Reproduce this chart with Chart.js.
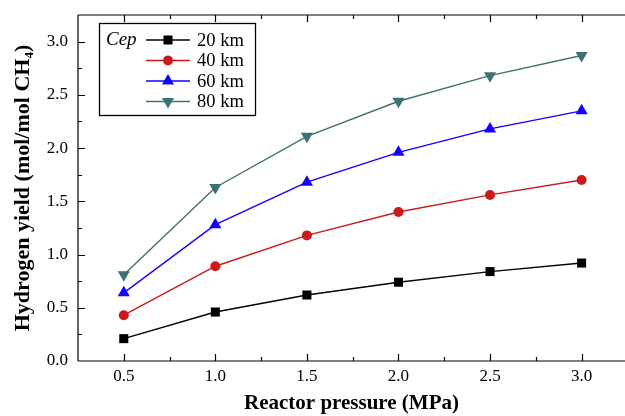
<!DOCTYPE html>
<html>
<head>
<meta charset="utf-8">
<script src="https://cdn.jsdelivr.net/npm/chart.js@4"></script>
<style>
  body { margin: 0; background: #fff; }
</style>
</head>
<body>
<canvas id="chart" width="625" height="416"></canvas>
<script>
const pressures = [0.5, 1.0, 1.5, 2.0, 2.5, 3.0];
const seriesNames = ['20 km', '40 km', '60 km', '80 km'];
const yield20 = [0.21, 0.46, 0.62, 0.74, 0.84, 0.92];
const yield40 = [0.43, 0.89, 1.18, 1.40, 1.56, 1.70];
const yield60 = [0.64, 1.28, 1.68, 1.96, 2.18, 2.35];
const yield80 = [0.81, 1.63, 2.11, 2.44, 2.68, 2.87];
const yTicks = [0.0, 0.5, 1.0, 1.5, 2.0, 2.5, 3.0];
const legendTitle = 'Cep';

const serif = '"Liberation Serif", "DejaVu Serif", serif';

function toPoints(ys) {
  return pressures.map((p, i) => ({ x: p, y: ys[i] }));
}

function makeSet(label, ys, color, style, radius, rotation) {
  return {
    label: label,
    data: toPoints(ys),
    borderColor: color,
    backgroundColor: color,
    borderWidth: 1.4,
    pointStyle: style,
    pointRadius: radius,
    pointRotation: rotation,
    pointBorderWidth: 0,
    tension: 0,
    clip: false
  };
}

// frame with inward ticks (top, left, bottom) like the original figure
const framePlugin = {
  id: 'frame',
  afterDraw(chart) {
    const ctx = chart.ctx;
    const a = chart.chartArea;
    const xs = chart.scales.x, ys = chart.scales.y;
    ctx.save();
    ctx.strokeStyle = '#000';
    ctx.lineWidth = 1.2;
    ctx.beginPath();
    ctx.moveTo(a.left, a.top); ctx.lineTo(chart.width, a.top);
    ctx.moveTo(a.left, a.top); ctx.lineTo(a.left, a.bottom);
    ctx.moveTo(a.left, a.bottom); ctx.lineTo(chart.width, a.bottom);
    for (let v = 0.5; v <= 3.0001; v += 0.25) {
      const px = Math.round(xs.getPixelForValue(v)) + 0.5;
      const len = Math.abs(v * 2 - Math.round(v * 2)) < 1e-6 ? 7 : 4;
      ctx.moveTo(px, a.bottom); ctx.lineTo(px, a.bottom - len);
      ctx.moveTo(px, a.top); ctx.lineTo(px, a.top + len);
    }
    for (let v = 0.25; v <= 3.0001; v += 0.25) {
      const py = Math.round(ys.getPixelForValue(v)) + 0.5;
      const len = Math.abs(v * 2 - Math.round(v * 2)) < 1e-6 ? 7 : 4;
      ctx.moveTo(a.left, py); ctx.lineTo(a.left + len, py);
    }
    ctx.stroke();
    ctx.restore();
  }
};

// boxed legend with the italic "Cep" title
const legendPlugin = {
  id: 'boxLegend',
  afterDraw(chart) {
    const ctx = chart.ctx;
    ctx.save();
    ctx.fillStyle = '#fff';
    ctx.fillRect(99, 23, 157, 93);
    ctx.strokeStyle = '#000';
    ctx.lineWidth = 1.3;
    ctx.strokeRect(99.5, 23.5, 156, 92);
    ctx.fillStyle = '#000';
    ctx.textBaseline = 'middle';
    ctx.font = 'italic 19px ' + serif;
    ctx.fillText(legendTitle, 106, 40);
    chart.data.datasets.forEach((ds, i) => {
      const y = 40 + i * 20.5;
      ctx.strokeStyle = ds.borderColor;
      ctx.lineWidth = 1.4;
      ctx.beginPath();
      ctx.moveTo(146, y); ctx.lineTo(190, y);
      ctx.stroke();
      ctx.fillStyle = ds.backgroundColor;
      Chart.helpers.drawPoint(ctx, {
        pointStyle: ds.pointStyle, radius: ds.pointRadius,
        rotation: ds.pointRotation, borderWidth: 0
      }, 168, y);
      ctx.fillStyle = '#000';
      ctx.font = '18.5px ' + serif;
      ctx.fillText(ds.label, 197, y + 1);
    });
    ctx.restore();
  }
};

new Chart(document.getElementById('chart'), {
  type: 'line',
  data: {
    datasets: [
      makeSet(seriesNames[0], yield20, '#000000', 'rect', 6.4, 0),
      makeSet(seriesNames[1], yield40, '#cc1a1a', 'circle', 5, 0),
      makeSet(seriesNames[2], yield60, '#1400ff', 'triangle', 7, 0),
      makeSet(seriesNames[3], yield80, '#3e7272', 'triangle', 7, 180)
    ]
  },
  options: {
    responsive: false,
    animation: false,
    layout: { autoPadding: false, padding: { top: 15, right: 0, left: 0, bottom: 0 } },
    plugins: {
      legend: { display: false },
      tooltip: { enabled: false }
    },
    scales: {
      x: {
        type: 'linear',
        min: 0.25,
        max: 3.237,
        afterFit(scale) {
          scale.height = 55;
          scale.paddingLeft = 0;
          scale.paddingRight = 0;
        },
        afterBuildTicks(scale) { scale.ticks = pressures.map(v => ({ value: v })); },
        grid: { display: false, drawTicks: false },
        border: { display: false },
        ticks: {
          padding: 5,
          color: '#000',
          font: { family: serif, size: 17 },
          callback: v => v.toFixed(1)
        },
        title: {
          display: true,
          text: 'Reactor pressure (MPa)',
          color: '#000',
          font: { family: serif, size: 21, weight: 'bold' },
          padding: { top: 2, bottom: 0 }
        }
      },
      y: {
        min: 0,
        max: 3.25,
        afterFit(scale) {
          scale.width = 78;
          scale.paddingTop = 0;
          scale.paddingBottom = 0;
        },
        afterBuildTicks(scale) { scale.ticks = yTicks.map(v => ({ value: v })); },
        grid: { display: false, drawTicks: false },
        border: { display: false },
        ticks: {
          padding: 10,
          color: '#000',
          font: { family: serif, size: 17 },
          callback: v => v.toFixed(1)
        },
        title: {
          display: true,
          text: 'Hydrogen yield (mol/mol CH\u2084)',
          color: '#000',
          font: { family: serif, size: 22, weight: 'bold' },
          padding: { top: 10, bottom: 0 }
        }
      }
    }
  },
  plugins: [framePlugin, legendPlugin]
});
</script>
</body>
</html>
